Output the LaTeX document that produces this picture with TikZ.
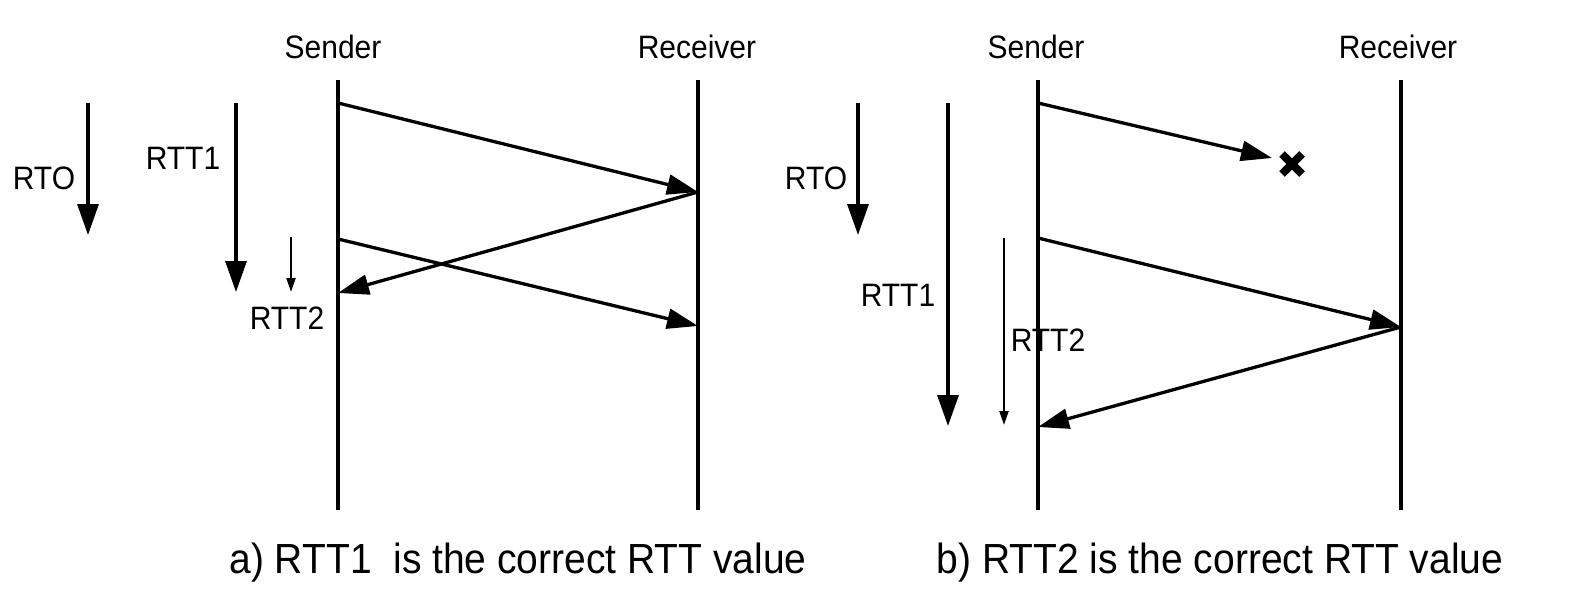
\documentclass[tikz,border=0pt]{standalone}
\usepackage{fontspec}
\setmainfont{Liberation Sans}
\usetikzlibrary{arrows.meta}
\tikzset{
  lifeline/.style={line width=3.3pt},
  msg/.style={line width=3.3pt,-{Triangle[length=31pt,width=20pt]}},
  bigdown/.style={line width=3.3pt,-{Triangle[length=31pt,width=21pt]}},
  smalldown/.style={line width=2.2pt,-{Triangle[length=14pt,width=9pt]}},
  lbl/.style={font=\fontsize{30}{30}\selectfont,inner sep=0pt,yscale=1.08,transform shape},
  captxt/.style={font=\fontsize{39}{39}\selectfont,inner sep=0pt,yscale=1.08,transform shape}
}
\begin{document}
\begin{tikzpicture}[x=1pt,y=-1pt]
\useasboundingbox (0,0) rectangle (1583,615);
% ---------- panel a ----------
\node[lbl] (sa) at (333,47) {Sender};
\node[lbl] (ra) at (697,47) {Receiver};
\coordinate (sat) at (338,80); \coordinate (sab) at (338,510);
\coordinate (rat) at (698,80); \coordinate (rab) at (698,510);
\draw[lifeline] (sat) -- (sab);
\draw[lifeline] (rat) -- (rab);
\coordinate (a1) at (338,103); \coordinate (a2) at (698,192);
\coordinate (a3) at (338,293); \coordinate (a4) at (338,239);
\coordinate (a5) at (698,326);
\draw[msg] (a1) -- (a2);
\draw[msg] (a2) -- (a3);
\draw[msg] (a4) -- (a5);
\coordinate (artoT) at (88,103); \coordinate (artoB) at (88,235);
\draw[bigdown] (artoT) -- (artoB);
\node[lbl] (artol) at (44,178) {RTO};
\coordinate (art1T) at (236,103); \coordinate (art1B) at (236,292);
\draw[bigdown] (art1T) -- (art1B);
\node[lbl] (art1l) at (183,158) {RTT1};
\coordinate (art2T) at (291,237); \coordinate (art2B) at (291,292);
\draw[smalldown] (art2T) -- (art2B);
\node[lbl] (art2l) at (287,318) {RTT2};
\node[captxt] (capa) at (518,563) {a) RTT1\ \ is the correct RTT value};
% ---------- panel b ----------
\node[lbl] (sb) at (1036,47) {Sender};
\node[lbl] (rb) at (1398,47) {Receiver};
\coordinate (sbt) at (1038,80); \coordinate (sbb) at (1038,510);
\coordinate (rbt) at (1401,80); \coordinate (rbb) at (1401,510);
\draw[lifeline] (sbt) -- (sbb);
\draw[lifeline] (rbt) -- (rbb);
\coordinate (b1) at (1038,103); \coordinate (b2) at (1272,158);
\coordinate (b3) at (1038,238); \coordinate (b4) at (1401,327);
\coordinate (b5) at (1038,427);
\draw[msg] (b1) -- (b2);
\draw[msg] (b3) -- (b4);
\draw[msg] (b4) -- (b5);
\coordinate (lost) at (1292,164);
\draw[line width=8pt] ([shift={(-10,-10)}]lost) -- ([shift={(10,10)}]lost);
\draw[line width=8pt] ([shift={(-10,10)}]lost) -- ([shift={(10,-10)}]lost);
\coordinate (brtoT) at (858,103); \coordinate (brtoB) at (858,235);
\draw[bigdown] (brtoT) -- (brtoB);
\node[lbl] (brtol) at (816,178) {RTO};
\coordinate (brt1T) at (948,103); \coordinate (brt1B) at (948,426);
\draw[bigdown] (brt1T) -- (brt1B);
\node[lbl] (brt1l) at (898,295) {RTT1};
\coordinate (brt2T) at (1004,238); \coordinate (brt2B) at (1004,425);
\draw[smalldown] (brt2T) -- (brt2B);
\node[lbl] (brt2l) at (1048,340) {RTT2};
\node[captxt] (capb) at (1220,563) {b) RTT2 is the correct RTT value};
\end{tikzpicture}
\end{document}
